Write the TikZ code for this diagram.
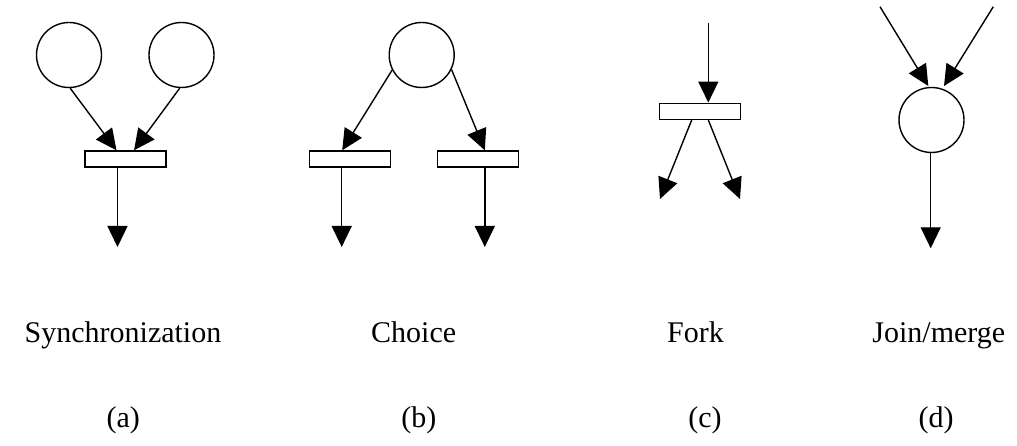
\documentclass[tikz,border=0pt]{standalone}
\usepackage{fontspec}
\setmainfont{Liberation Serif}
\usetikzlibrary{arrows.meta}
\begin{document}
\begin{tikzpicture}[x=1pt,y=-1pt,
  place/.style={draw,circle,minimum size=65pt,inner sep=0pt,line width=1.4pt},
  trans/.style={draw,rectangle,minimum width=81pt,minimum height=16pt,inner sep=0pt,line width=1.4pt},
  arc/.style={line width=1.4pt,-{Triangle[length=21pt,width=20pt]}},
  lbl/.style={font=\fontsize{30}{36}\selectfont,anchor=base,inner sep=0pt}]
\useasboundingbox (0,0) rectangle (1017,446);
% (a) Synchronization
\node[place] (s1) at (69,55) {};
\node[place] (s2) at (181.5,55) {};
\node[trans] (st) at (125.5,159) {};
\coordinate (so) at (117.5,247);
\draw[arc] (s1.-88) -- ([xshift=-9pt]st.north);
\draw[arc] (s2.-93) -- ([xshift=8.5pt]st.north);
\draw[arc] ([xshift=-8pt]st.south) -- (so);
% (b) Choice
\node[place] (c) at (421.7,55) {};
\node[trans] (ct1) at (349.7,159) {};
\node[trans] (ct2) at (477.8,159) {};
\coordinate (co1) at (341.7,247);
\coordinate (co2) at (484.8,247);
\draw[arc] (c.207) -- ([xshift=-7.5pt]ct1.north);
\draw[arc] (c.-26) -- ([xshift=7pt]ct2.north);
\draw[arc] ([xshift=-8pt]ct1.south) -- (co1);
\draw[arc] ([xshift=7pt]ct2.south) -- (co2);
% (c) Fork
\node[trans] (ft) at (699.7,111.3) {};
\coordinate (fi) at (708.3,22.7);
\coordinate (fo1) at (660,199);
\coordinate (fo2) at (740,199);
\draw[arc] (fi) -- ([xshift=8.6pt]ft.north);
\draw[arc] ([xshift=-8pt]ft.south) -- (fo1);
\draw[arc] ([xshift=8.6pt]ft.south) -- (fo2);
% (d) Join/merge
\node[place] (j) at (931.5,120) {};
\coordinate (ji1) at (880,6.7);
\coordinate (ji2) at (993.3,6.7);
\coordinate (jo) at (930.7,248.3);
\draw[arc] (ji1) -- ([xshift=-3.2pt,yshift=0.8pt]j.north);
\draw[arc] (ji2) -- ([xshift=12.5pt,yshift=0.8pt]j.north);
\draw[arc] ([xshift=-0.8pt]j.south) -- (jo);
% labels
\node[lbl] (la) at (123,342.7) {Synchronization};
\node[lbl] (lb) at (413.7,342.7) {Choice};
\node[lbl] (lc) at (695.5,342.7) {Fork};
\node[lbl] (ld) at (938.8,342.7) {Join/merge};
\node[lbl] (na) at (123.3,427.7) {(a)};
\node[lbl] (nb) at (418.8,427.7) {(b)};
\node[lbl] (nc) at (705,427.7) {(c)};
\node[lbl] (nd) at (936,427.7) {(d)};
\end{tikzpicture}
\end{document}
